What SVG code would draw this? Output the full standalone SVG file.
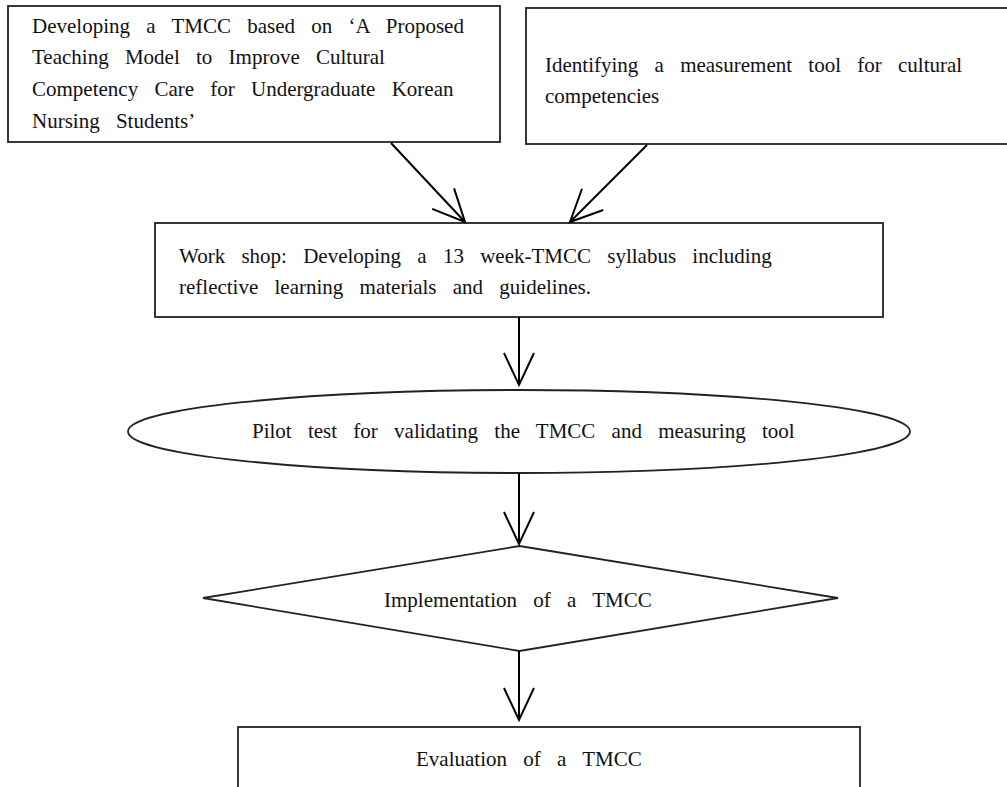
<svg xmlns="http://www.w3.org/2000/svg" width="1007" height="787" viewBox="0 0 1007 787">
<defs>
<style>
.box{fill:#fff;stroke:#222;stroke-width:1.8}
.t{font-family:"Liberation Serif","Times New Roman",serif;font-size:21px;word-spacing:11px;fill:#111}
.c{fill:none;stroke:#000;stroke-width:2}
</style>
<marker id="v" markerUnits="userSpaceOnUse" viewBox="-36 -18 38 36" refX="0" refY="0" markerWidth="38" markerHeight="36" orient="auto" overflow="visible">
<path d="M-32,-15 L0,0 L-32,15" fill="none" stroke="#000" stroke-width="2"/>
</marker>
</defs>
<rect width="1007" height="787" fill="#fff"/>
<g id="n1">
<rect class="box" x="8" y="6" width="492" height="136"/>
<text class="t" x="32" y="33">Developing a TMCC based on ‘A Proposed</text>
<text class="t" x="32" y="64">Teaching Model to Improve Cultural</text>
<text class="t" x="32" y="96">Competency Care for Undergraduate Korean</text>
<text class="t" x="32" y="128">Nursing Students’</text>
</g>
<g id="n2">
<rect class="box" x="526" y="8" width="490" height="136"/>
<text class="t" x="545" y="72">Identifying a measurement tool for cultural</text>
<text class="t" x="545" y="103">competencies</text>
</g>
<g id="n3">
<rect class="box" x="155" y="223" width="728" height="94"/>
<text class="t" x="179" y="263">Work shop: Developing a 13 week-TMCC syllabus including</text>
<text class="t" x="179" y="294">reflective learning materials and guidelines.</text>
</g>
<g id="n4">
<ellipse class="box" cx="519" cy="431.5" rx="391" ry="41.5"/>
<text class="t" x="252" y="438">Pilot test for validating the TMCC and measuring tool</text>
</g>
<g id="n5">
<polygon class="box" points="519.5,546 838,598 519.5,651 203,598"/>
<text class="t" x="384" y="607">Implementation of a TMCC</text>
</g>
<g id="n6">
<rect class="box" x="238" y="727" width="622" height="80"/>
<text class="t" x="416" y="766">Evaluation of a TMCC</text>
</g>
<g id="connectors">
<line class="c" x1="391" y1="143" x2="465" y2="222" marker-end="url(#v)"/>
<line class="c" x1="647" y1="145" x2="570" y2="222" marker-end="url(#v)"/>
<line class="c" x1="519" y1="317" x2="519" y2="385" marker-end="url(#v)"/>
<line class="c" x1="519" y1="473" x2="519" y2="544" marker-end="url(#v)"/>
<line class="c" x1="519" y1="651" x2="519" y2="720" marker-end="url(#v)"/>
</g>
</svg>
